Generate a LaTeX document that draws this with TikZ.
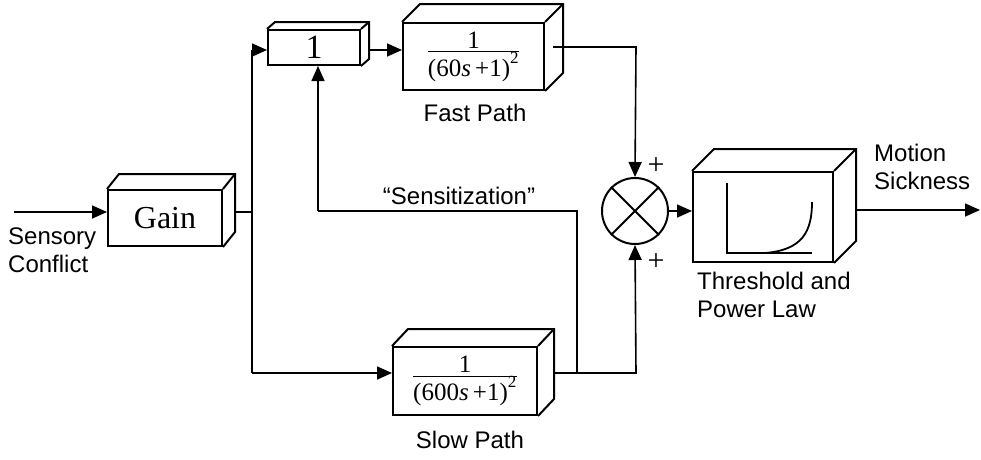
\documentclass[tikz,border=0pt]{standalone}
\usepackage{fontspec}
\setmainfont{Liberation Serif}
\setsansfont{Liberation Sans}
\usetikzlibrary{calc,arrows.meta}
\newcommand{\cubeface}[3]{%
  \draw[boxline] (#1.north west) -- ++(#2,#3) -- ($(#1.north east)+(#2,#3)$) -- ($(#1.south east)+(#2,#3)$) -- (#1.south east);
  \draw[boxline] (#1.north east) -- ++(#2,#3);}
\newcommand{\supsz}{\fontsize{17}{18}\selectfont}
\begin{document}
\begin{tikzpicture}[x=1pt,y=-1pt,
  boxline/.style={line width=2pt,line join=miter},
  frontbox/.style={draw,line width=2pt,rectangle,inner sep=0pt,fill=white},
  wire/.style={line width=1.6pt},
  arr/.style={wire,-{Triangle[length=15pt,width=13pt]}},
  lbl/.style={font=\sffamily\fontsize{24}{28}\selectfont,align=left,inner sep=0pt},
  tf/.style={font=\fontsize{25}{28}\selectfont,inner sep=0pt},
  plus/.style={font=\fontsize{30}{30}\selectfont,inner sep=0pt}]
\useasboundingbox (0,0) rectangle (981,459);

% boxes (front faces)
\node[frontbox,minimum width=114pt,minimum height=56pt] (gain) at (165,218) {};
\node[font=\fontsize{32}{36}\selectfont] at (gain.center) {Gain};
\cubeface{gain}{12}{-15}

\node[frontbox,minimum width=92pt,minimum height=35pt] (one) at (314,47.5) {};
\node[font=\fontsize{34}{36}\selectfont] at (one.center) {1};
\cubeface{one}{8}{-7}

\node[frontbox,minimum width=141pt,minimum height=67pt] (fast) at (473.5,56.5) {};
\node[tf] at (fast.center) {$\frac{\mbox{1}}{\mbox{(60\textit{s}\,+1)}^{\mbox{\supsz 2}}}$};
\cubeface{fast}{18}{-18}

\node[frontbox,minimum width=144pt,minimum height=68pt] (slow) at (465,381) {};
\node[tf] at (slow.center) {$\frac{\mbox{1}}{\mbox{(600\textit{s}\,+1)}^{\mbox{\supsz 2}}}$};
\cubeface{slow}{16}{-17}

\node[frontbox,minimum width=140pt,minimum height=90pt] (thr) at (763,217) {};
\cubeface{thr}{22}{-22}
\draw[line width=1.8pt] (727,183) -- (727,253) -- (812,253);
\draw[line width=1.8pt] (765,253) .. controls (802,250) and (812,232) .. (812,202);

% summing junction
\node[draw,circle,line width=2pt,minimum size=66pt,inner sep=0pt] (sum) at (635,211) {};
\draw[line width=1.8pt] (sum.north west) -- (sum.south east) (sum.north east) -- (sum.south west);
\node[plus] (p1) at (656,166) {+};
\node[plus] (p2) at (656,262) {+};

% coordinates
\coordinate (in) at (14,212);
\coordinate (split) at (252,212);
\coordinate (top) at (252,50);
\coordinate (bot) at (252,373);
\coordinate (fo) at (553,47);
\coordinate (fc) at (636,47);
\coordinate (so) at (553,373);
\coordinate (sc) at (636,373);
\coordinate (tap) at (577,373);
\coordinate (tapu) at (577,211);
\coordinate (sl) at (318,211);
\coordinate (out) at (980,210);

% connectors
\draw[arr] (in) -- (gain.west |- in);
\draw[wire] (gain.east |- split) ++(12,0) -- (split);
\draw[wire] (top) -- (bot);
\draw[arr] (top) -- (one.west |- top);
\draw[arr] (bot) -- (slow.west |- bot);
\draw[arr] (one.east |- top) ++(8,0) -- (fast.west |- top);
\draw[arr] (fo) -- (fc) -- (sum.north);
\draw[arr] (so) -- (sc) -- (sum.south);
\draw[wire] (tap) -- (tapu) -- (sl);
\draw[arr] (sl) -- (one.south -| sl);
\draw[arr] (sum.east) -- (thr.west |- sum.east);
\draw[arr] (thr.east |- out) ++(22,0) -- (out);

% labels
\node[lbl,anchor=north west] (lsc) at (8,228) {Sensory\\Conflict};
\node[lbl,anchor=center] (lfp) at (475,113) {Fast Path};
\node[lbl,anchor=center] (lsp) at (470,440) {Slow Path};
\node[lbl,anchor=center] (lsen) at (459,196) {``Sensitization''};
\node[lbl,anchor=north west] (lthr) at (697,272) {Threshold and\\Power Law};
\node[lbl,anchor=north west] (lms) at (874,144) {Motion\\Sickness};
\end{tikzpicture}
\end{document}
